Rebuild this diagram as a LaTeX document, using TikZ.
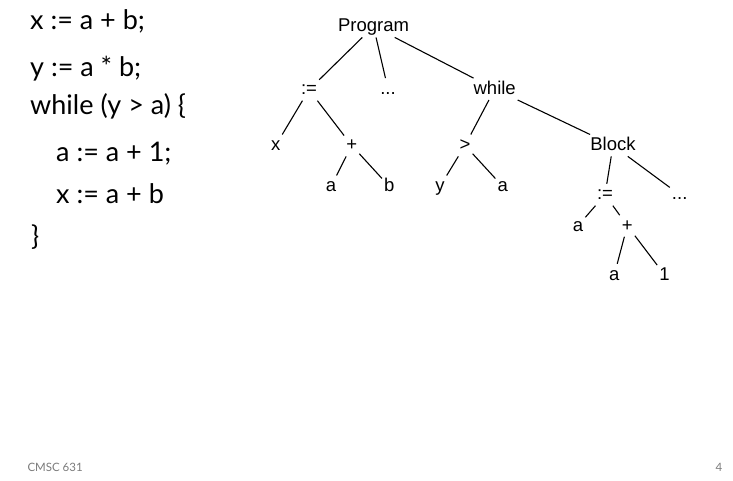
\documentclass[tikz,border=0pt]{standalone}
\usepackage{fontspec}
\setmainfont{Liberation Sans}
\newfontfamily\codefont{Lato}
\definecolor{footgray}{HTML}{7A7A7A}
\begin{document}
\begin{tikzpicture}[x=1pt,y=-1pt,
  treenode/.style={inner sep=2pt, text height=14pt, text depth=3.5pt, font=\fontsize{18.5}{20}\selectfont},
  codeline/.style={anchor=base west, inner sep=0pt, font=\codefont\fontsize{27}{29}\selectfont},
  footer/.style={anchor=base west, inner sep=0pt, text=footgray, font=\codefont\fontsize{11.5}{12}\selectfont},
  edge/.style={line width=1.1pt}]
\useasboundingbox (0,0) rectangle (733,481);
% code
\node[codeline] (c1) at (30,29.3) {x := a + b;};
\node[codeline] (c2) at (30,76.5) {y := a * b;};
\node[codeline] (c3) at (30,115) {while (y > a) \{};
\node[codeline] (c4) at (56,161.7) {a := a + 1;};
\node[codeline] (c5) at (56,203.3) {x := a + b};
\node[codeline] (c6) at (31,245) {\}};
% tree (positions are node centres = baseline - 5.25)
\node[treenode] (prog)  at (373.5,26.45) {Program};
\node[treenode] (as1)   at (309,89.75) {:=};
\node[treenode] (dots1) at (388,89.05) {...};
\node[treenode] (while) at (494.7,89.05) {while};
\node[treenode] (x1)    at (275.7,145.45) {x};
\node[treenode] (plus1) at (351.7,145.45) {+};
\node[treenode] (gt)    at (465,145.45) {>};
\node[treenode] (block) at (613,145.45) {Block};
\node[treenode] (a1)    at (331,186.45) {a};
\node[treenode] (b1)    at (389.3,186.45) {b};
\node[treenode] (y1)    at (440,186.45) {y};
\node[treenode] (a2)    at (502.7,186.45) {a};
\node[treenode] (as2)   at (605,194.75) {:=};
\node[treenode] (dots2) at (679.7,194.75) {...};
\node[treenode] (a3)    at (578,225.75) {a};
\node[treenode] (plus2) at (627.3,225.75) {+};
\node[treenode] (a4)    at (614.3,274.75) {a};
\node[treenode] (one)   at (664.5,274.75) {1};
\draw[edge] (prog) -- (as1);
\draw[edge] (prog) -- (dots1);
\draw[edge] (prog) -- (while);
\draw[edge] (as1) -- (x1);
\draw[edge] (as1) -- (plus1);
\draw[edge] (plus1) -- (a1);
\draw[edge] (plus1) -- (b1);
\draw[edge] (while) -- (gt);
\draw[edge] (while) -- (block);
\draw[edge] (gt) -- (y1);
\draw[edge] (gt) -- (a2);
\draw[edge] (block) -- (as2);
\draw[edge] (block) -- (dots2);
\draw[edge] (as2) -- (a3);
\draw[edge] (as2) -- (plus2);
\draw[edge] (plus2) -- (a4);
\draw[edge] (plus2) -- (one);
% footer
\node[footer] (course) at (27.3,471) {CMSC 631};
\node[footer] (page) at (715.5,471) {4};
\end{tikzpicture}
\end{document}
